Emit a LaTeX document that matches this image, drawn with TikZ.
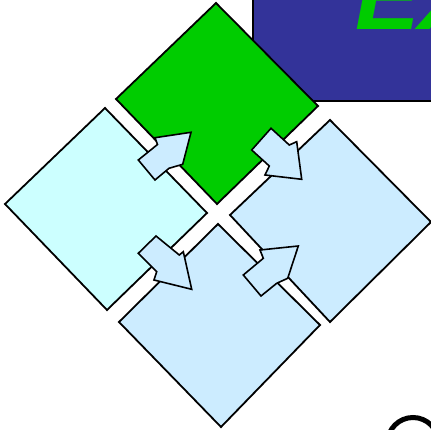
\documentclass[tikz,border=0pt]{standalone}
\usepackage{fontspec}
\setmainfont{Liberation Sans}
\definecolor{titleblue}{RGB}{51,51,153}
\definecolor{tgreen}{RGB}{0,204,0}
\definecolor{pcyan}{RGB}{204,255,255}
\definecolor{pblue}{RGB}{204,236,255}
\begin{document}
\begin{tikzpicture}[x=1pt,y=-1pt,
  piece/.style={draw=black,line width=1.8pt,line join=miter},
  blockarrow/.style={draw=black,fill=pblue,line width=1.6pt,line join=miter}]
\useasboundingbox (0,0) rectangle (431,430);
\clip (0,0) rectangle (431,430);
% title banner
\draw[fill=titleblue,line width=1.6pt] (253,-20) rectangle (460,101);
\node[anchor=base west,inner sep=0pt,text=tgreen,font=\fontsize{97}{97}\selectfont\bfseries\itshape] (title) at (355,30) {EX};
% puzzle pieces
\filldraw[piece,fill=tgreen] (216,3) coordinate (gT) -- (318,106) coordinate (gR) -- (217,204) coordinate (gB) -- (116,99) coordinate (gL) -- cycle;
\filldraw[piece,fill=pcyan] (105,108) coordinate (cT) -- (207,213) coordinate (cR) -- (107,310) coordinate (cB) -- (5,204) coordinate (cL) -- cycle;
\filldraw[piece,fill=pblue] (330,120) coordinate (rT) -- (431,222) coordinate (rR) -- (330,322) coordinate (rB) -- (230,215) coordinate (rL) -- cycle;
\filldraw[piece,fill=pblue] (218,224) coordinate (bT) -- (320,325) coordinate (bR) -- (221,427) coordinate (bB) -- (119,322) coordinate (bL) -- cycle;
% arrows
\filldraw[blockarrow] (138.3,160) -- (155,180) -- (169,168.3) -- (182.7,164.3) -- (191,132.3) -- (155,137.7) -- (157.5,144.5) -- cycle;
\filldraw[blockarrow] (271,128.3) -- (251.7,150) -- (269.3,166) -- (265,175) -- (301.7,179.3) -- (296.7,141.7) -- (289.3,145) -- cycle;
\filldraw[blockarrow] (156,236) -- (138.3,253.3) -- (156.7,271.7) -- (154,280) -- (191.7,289.3) -- (183.3,251.7) -- (179.3,255) -- cycle;
\filldraw[blockarrow] (243.3,275) -- (261,296) -- (276.7,283.3) -- (287.7,278.3) -- (298.3,246) -- (260,250) -- (263.3,258.3) -- cycle;
% partial ring at bottom right
\draw[line width=5pt] (413,443) circle (25.5);
\end{tikzpicture}
\end{document}
